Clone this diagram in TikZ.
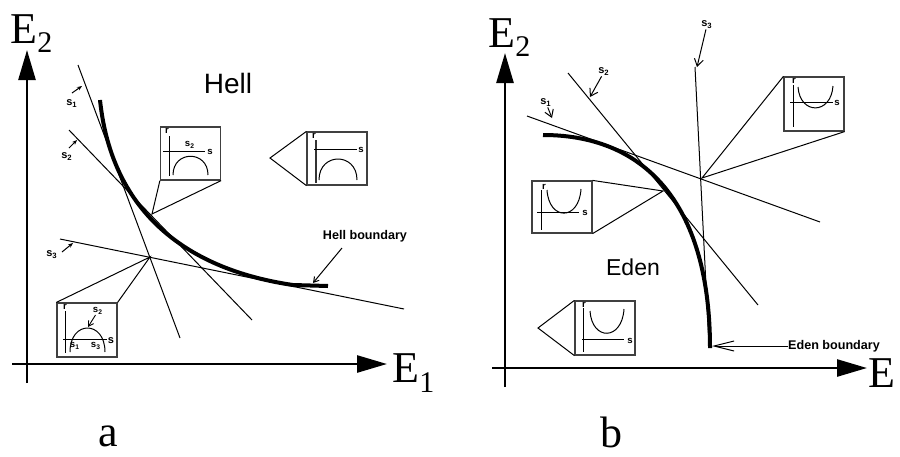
\documentclass[tikz,border=0pt]{standalone}
\usepackage{fontspec}
\setmainfont{Liberation Serif}
\setsansfont{Liberation Sans}
\usetikzlibrary{arrows.meta, positioning, calc}
\newcommand{\sv}[1]{s\textsubscript{#1}}
\newcommand{\axname}[2]{E\raisebox{#2}{\fontsize{15}{15}\selectfont #1}}

\begin{document}
\begin{tikzpicture}[x=0.5pt, y=-0.5pt, every node/.style={inner sep=0pt}]
    \tikzstyle{axis} = [draw, line width=1.3pt, -{Triangle[length=15pt, width=8.5pt]}]
    \tikzstyle{tline} = [draw, line width=0.5pt]
    \tikzstyle{bound} = [draw, line width=2pt]
    \tikzstyle{inset} = [rectangle, draw=black!75, line width=0.6pt, minimum width=30pt, minimum height=26.5pt]
    \tikzstyle{lead} = [draw, line width=0.5pt]
    \tikzstyle{tinyax} = [draw, line width=0.45pt]
    \tikzstyle{tinylab} = [font=\sffamily\bfseries\fontsize{4.8}{5}\selectfont]
    \tikzstyle{slab} = [font=\sffamily\bfseries\fontsize{5.5}{6}\selectfont]
    \tikzstyle{tipa} = [draw, line width=0.5pt, -{Stealth[length=2.5pt, width=2pt]}]
    \tikzstyle{tipb} = [draw, line width=0.5pt, -{Straight Barb[length=3.5pt, width=4.5pt]}]
    \tikzstyle{axlab} = [font=\rmfamily\fontsize{22}{24}\selectfont]

    \useasboundingbox (0,0) rectangle (900,456);

    % ---------- panel a ----------
    \coordinate (ya0) at (27,383);
    \coordinate (ya1) at (27,50);
    \coordinate (xa0) at (12,364);
    \coordinate (xa1) at (387,364);
    \path [axis] (ya0) -- (ya1);
    \path [axis] (xa0) -- (xa1);
    \node [axlab, anchor=base west] (e2a) at (10,43) {\axname{2}{-4.5pt}};
    \node [axlab, anchor=base west] (e1a) at (392,382) {\axname{1}{-5pt}};
    \node [axlab, anchor=base] (capa) at (108,446) {a};
    \node [font=\sffamily\fontsize{14}{16}\selectfont, anchor=base] (hell) at (228,93) {Hell};

    \path [bound] (100,100) .. controls (112,215) and (190,270) .. (293,285) -- (328,286);

    \coordinate (a1s) at (78,65);   \coordinate (a1e) at (180,338);
    \coordinate (a2s) at (69,130);  \coordinate (a2e) at (252,320);
    \coordinate (a3s) at (60,239);  \coordinate (a3e) at (404,309);
    \path [tline] (a1s) -- (a1e);
    \path [tline] (a2s) -- (a2e);
    \path [tline] (a3s) -- (a3e);

    \node [slab] (as1) at (72,104) {\sv{1}};
    \node [slab] (as2) at (67,157) {\sv{2}};
    \node [slab] (as3) at (52,255) {\sv{3}};
    \coordinate (as1f) at (72,93);  \coordinate (as1t) at (82,86);
    \coordinate (as2f) at (69,148); \coordinate (as2t) at (77,140);
    \coordinate (as3f) at (62,252); \coordinate (as3t) at (73,243);
    \path [tipa] (as1f) -- (as1t);
    \path [tipa] (as2f) -- (as2t);
    \path [tipa] (as3f) -- (as3t);

    % tangent point and crossing
    \coordinate (ta) at (152,214);
    \coordinate (ia) at (150,257);
    \coordinate (pa) at (270,158);

    % inset at the tangent point
    \node [inset] (boxa1) at (190.5,153.5) {};
    \path [lead] (boxa1.south west) -- (ta) -- (boxa1.south east);
    \path [tinyax] (169,136) -- (169,176);
    \path [tinyax] (163,151) -- (205,151);
    \node [tinylab] at (167,131) {r};
    \node [tinylab] at (210,152) {s};
    \node [tinylab] (a1s2) at (190,145) {\sv{2}};
    \path [draw, line width=0.5pt] (173,175) .. controls (173,150) and (208,150) .. (208,175);

    % inset in the Hell region
    \node [inset] (boxa2) at (337,158.5) {};
    \path [lead] (boxa2.north west) -- (pa) -- (boxa2.south west);
    \path [tinyax, line width=0.8pt, draw=black!80] (316,140) -- (316,183);
    \path [tinyax] (314,149) -- (357,149);
    \node [tinylab] at (314,136) {r};
    \node [tinylab] at (361,150) {s};
    \path [draw, line width=0.5pt] (319,180) .. controls (319,152) and (357,152) .. (357,180);

    % inset at the crossing
    \node [inset, minimum height=27pt] (boxa3) at (87,330) {};
    \path [lead] (boxa3.north west) -- (ia) -- (boxa3.north east);
    \path [tinyax] (65,311) -- (65,353);
    \path [tinyax] (63,339) -- (107,339);
    \node [tinylab] at (65,307) {r};
    \node [tinylab, font=\sffamily\bfseries\fontsize{5.5}{6}\selectfont] at (111,341) {s};
    \path [draw, line width=0.5pt] (70,352) .. controls (70,320) and (105,320) .. (105,352);
    \node [tinylab] at (75,346) {\sv{1}};
    \node [tinylab] at (96,346) {\sv{3}};
    \node [tinylab] (a3s2) at (98,311) {\sv{2}};
    \coordinate (a3t) at (88,327);
    \path [draw, line width=0.45pt, -{Straight Barb[length=2.5pt, width=3pt]}] (a3s2) -- (a3t);

    \node [slab, font=\sffamily\bfseries\fontsize{6.3}{7}\selectfont] (hbl) at (365,236) {Hell boundary};
    \coordinate (hbf) at (342,248);
    \coordinate (hbt) at (313,283);
    \path [draw, line width=0.5pt, -{Straight Barb[length=2.5pt, width=3pt]}] (hbf) -- (hbt);

    % ---------- panel b ----------
    \coordinate (yb0) at (505,387);
    \coordinate (yb1) at (505,53);
    \coordinate (xb0) at (492,368);
    \coordinate (xb1) at (867,368);
    \path [axis] (yb0) -- (yb1);
    \path [axis] (xb0) -- (xb1);
    \node [axlab, anchor=base west] (e2b) at (488,47) {\axname{2}{-4.5pt}};
    \node [axlab, anchor=base west] (eb) at (868,387) {E};
    \node [axlab, anchor=base] (capb) at (611,447) {b};
    \node [font=\sffamily\fontsize{11.5}{13}\selectfont, anchor=base] (eden) at (633,275) {Eden};

    \path [bound] (543,135) .. controls (650,135) and (710,210) .. (710,348);

    \coordinate (b1s) at (527,116); \coordinate (b1e) at (820,222);
    \coordinate (b2s) at (568,73);  \coordinate (b2e) at (758,305);
    \coordinate (b3s) at (695,67);  \coordinate (b3e) at (709,345);
    \path [tline] (b1s) -- (b1e);
    \path [tline] (b2s) -- (b2e);
    \path [tline] (b3s) -- (b3e);

    \node [slab] (bs1) at (546,103) {\sv{1}};
    \node [slab] (bs2) at (604,72) {\sv{2}};
    \node [slab] (bs3) at (707,25) {\sv{3}};
    \coordinate (bs1t) at (552,118);
    \coordinate (bs2t) at (590,97);
    \coordinate (bs3t) at (697,67);
    \path [tipb] (bs1) -- (bs1t);
    \path [tipb] (bs2) -- (bs2t);
    \path [tipb] (bs3) -- (bs3t);

    \coordinate (tb) at (663,191);
    \coordinate (ib) at (702,178);
    \coordinate (pb) at (538,328);

    % inset at the crossing
    \node [inset, minimum height=27pt] (boxb1) at (814,104) {};
    \path [lead] (boxb1.north west) -- (ib) -- (boxb1.south east);
    \path [tinyax] (793,85) -- (793,127);
    \path [tinyax] (790,102) -- (833,102);
    \node [tinylab] at (794,81) {r};
    \node [tinylab] at (837,103) {s};
    \path [draw, line width=0.5pt] (798,87) .. controls (800,115) and (831,115) .. (833,86);

    % inset at the tangent point
    \node [inset, minimum height=26pt] (boxb2) at (562,207) {};
    \path [lead] (boxb2.north east) -- (tb) -- (boxb2.south east);
    \path [tinyax] (541,190) -- (541,230);
    \path [tinyax] (537,212) -- (579,212);
    \node [tinylab] at (544,187) {r};
    \node [tinylab] at (585,213) {s};
    \path [draw, line width=0.5pt] (547,190) .. controls (549,221) and (579,221) .. (581,189);

    % inset in the Eden region
    \node [inset, minimum height=27pt] (boxb3) at (605,328) {};
    \path [lead] (boxb3.north west) -- (pb) -- (boxb3.south west);
    \path [tinyax] (583,308) -- (583,352);
    \path [tinyax] (582,339) -- (624,339);
    \node [tinylab] at (584,305) {r};
    \node [tinylab] at (630,341) {s};
    \path [draw, line width=0.5pt] (590,311) .. controls (592,341) and (622,341) .. (624,309);

    \node [slab, font=\sffamily\bfseries\fontsize{6.3}{7}\selectfont] (ebl) at (834,346) {Eden boundary};
    \coordinate (ebt) at (712,346);
    \path [draw, line width=0.5pt, -{Straight Barb[length=10pt, width=5pt]}] (ebl) -- (ebt);
\end{tikzpicture}
\end{document}
